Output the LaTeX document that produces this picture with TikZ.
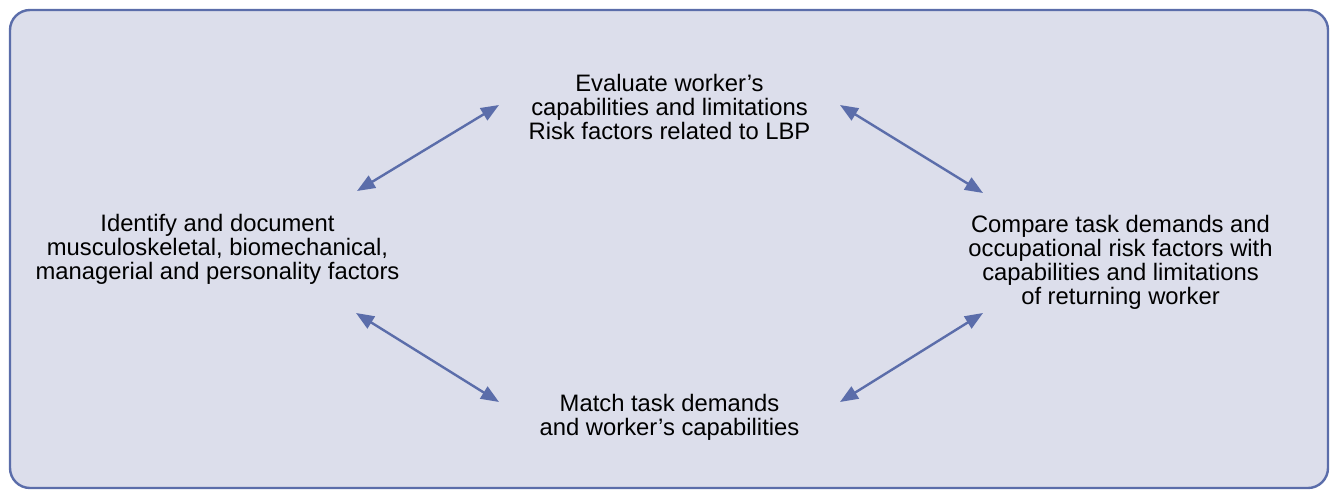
\documentclass[tikz,border=0pt]{standalone}
\usepackage{fontspec}
\setmainfont{Liberation Sans}
\usetikzlibrary{arrows.meta}
\definecolor{framefill}{HTML}{DCDEEB}
\definecolor{framedraw}{HTML}{5B6DAA}
\tikzset{
  lbl/.style={align=center, inner sep=0pt, text=black, font=\fontsize{23.8}{24}\selectfont},
  dblarrow/.style={draw=framedraw, line width=2.4pt, {Triangle[length=18pt,width=14pt]}-{Triangle[length=18pt,width=14pt]}},
  frame/.style={draw=framedraw, fill=framefill, line width=2.4pt, rounded corners=20pt}
}
\begin{document}
\begin{tikzpicture}[x=1pt,y=-1pt]
\useasboundingbox (0,0) rectangle (1330,490);
\draw[frame] (10,10) rectangle (1328,488);
\node[lbl] (top) at (669.5,107.0) {Evaluate worker’s\\capabilities and limitations\\Risk factors related to LBP};
\node[lbl] (left) at (217.5,249.5) {Identify and document\\musculoskeletal, biomechanical,\\managerial and personality factors};
\node[lbl] (right) at (1120.5,262.5) {Compare task demands and\\occupational risk factors with\\capabilities and limitations\\of returning worker};
\node[lbl] (bot) at (669.5,417.5) {Match task demands\\and worker’s capabilities};
\draw[dblarrow] ([shift={(139.5,-58.5)}]left.center) -- ([shift={(-170.5,-2)}]top.center);
\draw[dblarrow] ([shift={(170.5,-2)}]top.center) -- ([shift={(-137.5,-69.5)}]right.center);
\draw[dblarrow] ([shift={(138.5,63.5)}]left.center) -- ([shift={(-170.5,-15.5)}]bot.center);
\draw[dblarrow] ([shift={(170.5,-15.5)}]bot.center) -- ([shift={(-137.5,50.5)}]right.center);
\end{tikzpicture}
\end{document}
